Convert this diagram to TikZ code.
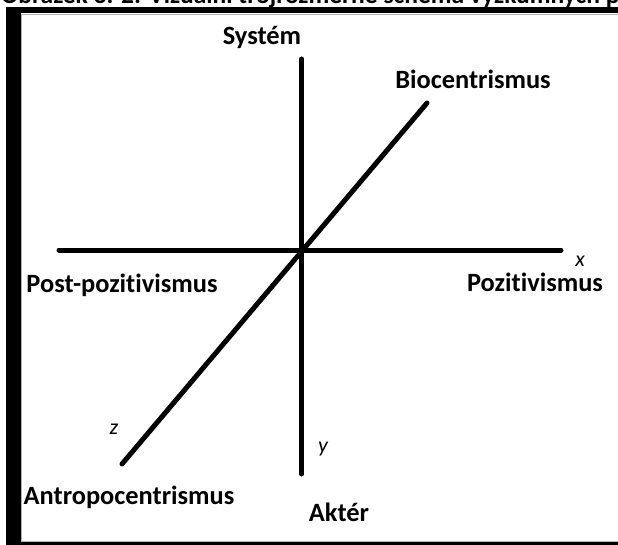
\documentclass[tikz,border=0pt]{standalone}
\usepackage{fontspec}
\setmainfont{Carlito}[Ligatures=NoCommon]
\begin{document}
\begin{tikzpicture}[x=1bp,y=-1bp,
  axis/.style={line width=5bp,line cap=round},
  lab/.style={font=\fontsize{26.5}{28}\selectfont\bfseries,inner sep=0pt},
  var/.style={font=\fontsize{22}{24}\selectfont\itshape,inner sep=0pt}]
\useasboundingbox (0,0) rectangle (618,545);
\clip (0,0) rectangle (618,545);
\fill[white] (0,0) rectangle (618,545);
% frame
\fill[black] (6,7) rectangle (618,13.5);
\fill[black] (6,7) rectangle (21,545);
\fill[black] (6,542) rectangle (618,545);
\draw[gray!60,line width=0.8bp] (21.5,14) -- (618,14);
\draw[gray!60,line width=0.8bp] (21.5,14) -- (21.5,541.5) -- (618,541.5);
% caption (cut off at top)
\node[font=\fontsize{25.6}{27}\selectfont\bfseries,anchor=base west,inner sep=0pt] (cap) at (1,4) {Obrázek 3. 2: Vizuální trojrozměrné schéma výzkumných přístupů};
% axes
\coordinate (ytop) at (301.5,59);
\coordinate (ybot) at (301.5,474);
\coordinate (xl) at (59,250);
\coordinate (xr) at (561,250);
\coordinate (zb) at (122,464);
\coordinate (zt) at (427,103);
\draw[axis] (ytop) -- (ybot);
\draw[axis] (xl) -- (xr);
\draw[axis] (zb) -- (zt);
% labels
\node[lab] (sys) at (262,37) {Systém};
\node[lab] (bio) at (473,79) {Biocentrismus};
\node[lab] (post) at (122,285) {Post-pozitivismus};
\node[lab] (poz) at (535,282) {Pozitivismus};
\node[lab] (antro) at (129,497) {Antropocentrismus};
\node[lab] (akt) at (339,512) {Aktér};
\node[var] (vx) at (580,261) {x};
\node[var] (vz) at (114,429) {z};
\node[var] (vy) at (323,449) {y};
\end{tikzpicture}
\end{document}
